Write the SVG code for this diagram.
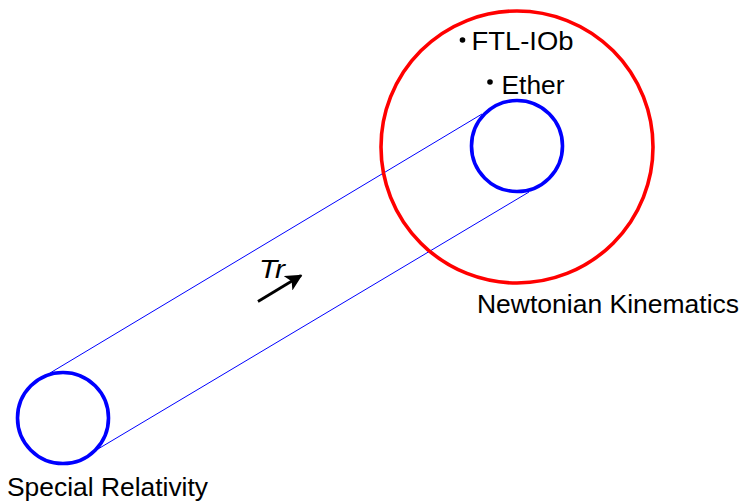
<svg xmlns="http://www.w3.org/2000/svg" width="745" height="502" viewBox="0 0 745 502">
<style>
  .lbl { font-family: "Liberation Sans", "DejaVu Sans", sans-serif; font-size: 26.5px; fill: #000; }
  .blue { fill: none; stroke: #0000ff; stroke-width: 3.6; }
  .red { fill: none; stroke: #ff0000; stroke-width: 3.6; }
  .conn { stroke: #0000ff; stroke-width: 1; fill: none; }
</style>
<defs>
  <marker id="ah" viewBox="0 0 10 10" refX="9" refY="5" markerWidth="6" markerHeight="6" markerUnits="strokeWidth" orient="auto">
    <path d="M0,0 L10,5 L0,10 L2.5,5 Z" fill="#000"/>
  </marker>
</defs>
<rect width="745" height="502" fill="#fff"/>
<g id="connectors">
  <line class="conn" x1="50" y1="373" x2="482" y2="114"/>
  <line class="conn" x1="98" y1="449" x2="529" y2="192"/>
  <line x1="258" y1="301.5" x2="301" y2="275.5" stroke="#000" stroke-width="2.8" marker-end="url(#ah)"/>
  <text x="259" y="277.5" class="lbl" font-style="italic" font-size="25" textLength="26" lengthAdjust="spacingAndGlyphs">Tr</text>
</g>
<g id="newtonian">
  <circle class="red" cx="517" cy="147" r="136"/>
  <text class="lbl" x="477" y="313" textLength="262" lengthAdjust="spacingAndGlyphs">Newtonian Kinematics</text>
</g>
<g id="ftl">
  <circle cx="462.5" cy="40" r="2.8" fill="#000"/>
  <text class="lbl" x="471.5" y="49.5" textLength="102" lengthAdjust="spacingAndGlyphs">FTL-IOb</text>
</g>
<g id="ether">
  <circle cx="490" cy="82" r="2.8" fill="#000"/>
  <text class="lbl" x="501.5" y="94" textLength="63" lengthAdjust="spacingAndGlyphs">Ether</text>
  <circle class="blue" cx="517" cy="146" r="45.5"/>
</g>
<g id="special">
  <circle class="blue" cx="63" cy="418" r="45.5"/>
  <text class="lbl" x="7" y="495.5" textLength="201" lengthAdjust="spacingAndGlyphs">Special Relativity</text>
</g>
</svg>
